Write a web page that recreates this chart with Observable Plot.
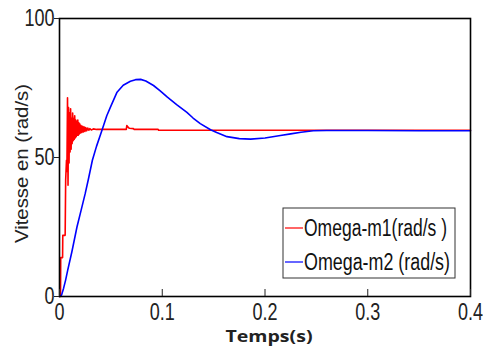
<!DOCTYPE html>
<html>
<head>
<meta charset="utf-8">
<script src="https://cdn.jsdelivr.net/npm/d3@7"></script>
<script src="https://cdn.jsdelivr.net/npm/@observablehq/plot@0.6"></script>
<style>
  html, body { margin: 0; padding: 0; background: #fff; }
  #chart { position: relative; width: 483px; height: 353px; }
</style>
</head>
<body>
<div id="chart"></div>
<script>
// Omega-m1 (red): time (s) and speed (rad/s)
const redT = [0,0.001,0.0012,0.003,0.0032,0.0055,0.006,0.0068,0.0072,0.0078,0.0083,0.0088,0.0093,0.0098,0.0103,0.0108,0.0113,0.0118,0.0123,0.0128,0.0133,0.0138,0.0143,0.0148,0.0153,0.0158,0.0163,0.0168,0.0173,0.0178,0.0183,0.0188,0.0193,0.0198,0.0205,0.021,0.0218,0.0225,0.0233,0.024,0.0248,0.0255,0.0265,0.0275,0.0285,0.0295,0.031,0.033,0.036,0.065,0.0655,0.067,0.068,0.072,0.0725,0.096,0.0965,0.4];
const redV = [0,0,14,14,22,22,42,49,45,71.5,40,68,48,66,52,67.5,53,64,55,66,56,64,56.5,65,57,63.5,57.5,63,58,63.5,58,62.5,58.5,62,58.8,61.5,59,61.2,59.2,61,59.4,60.8,59.6,60.6,59.8,60.4,59.9,60.3,60.1,60.1,61.5,60.8,60.5,60.4,60.1,60.1,59.8,59.8];
// Omega-m2 (blue)
const blueT = [0,0.002,0.004,0.006,0.008,0.012,0.017,0.021,0.025,0.028,0.032,0.036,0.0415,0.046,0.05,0.056,0.062,0.069,0.074,0.079,0.084,0.0915,0.098,0.105,0.114,0.124,0.13,0.137,0.147,0.153,0.163,0.175,0.186,0.2,0.215,0.225,0.235,0.247,0.26,0.3,0.35,0.4];
const blueV = [0,0.5,3,6,9.5,16,25,31,37,42,49,54,60,65,68.5,73.5,76,77.4,78,78.1,77.5,75.9,74,71.7,69,66.2,64.2,62.2,60,59,57.5,56.8,56.6,57,57.9,58.5,59.1,59.6,59.7,59.7,59.6,59.6];

const xTicks = [0, 0.1, 0.2, 0.3, 0.4];
const yTicks = [0, 50, 100];
const seriesNames = ["Omega-m1(rad/s )", "Omega-m2 (rad/s)"];
const seriesColors = ["#ff0000", "#0000ff"];
const xLabel = "Temps(s)";
const yLabel = "Vitesse en (rad/s)";

const red = redT.map((t, i) => ({t, v: redV[i]}));
const blue = blueT.map((t, i) => ({t, v: blueV[i]}));

const sans = "'Liberation Sans',Arial,sans-serif";

const plot = Plot.plot({
  width: 483,
  height: 353,
  marginLeft: 59,
  marginRight: 13,
  marginTop: 18,
  marginBottom: 57,
  style: {background: "#fff", fontFamily: sans, fontSize: "24px", color: "#222"},
  x: {domain: [0, 0.4]},
  y: {domain: [0, 100]},
  marks: [
    Plot.line(red, {x: "t", y: "v", stroke: seriesColors[0], strokeWidth: 1.6}),
    Plot.line(blue, {x: "t", y: "v", stroke: seriesColors[1], strokeWidth: 1.6}),
    Plot.frame({stroke: "#000", strokeWidth: 1.6}),
    Plot.axisX({ticks: xTicks, tickFormat: d => String(d), tickSize: -7, tickPadding: 13, tickStrokeWidth: 1.3, label: null, fontSize: 24, fill: "#222"}),
    Plot.axisY({ticks: yTicks, tickFormat: d => String(d), tickSize: 5, tickPadding: 0, tickStrokeWidth: 1.3, label: null, fontSize: 24, fill: "#222"}),
    Plot.text([xLabel], {frameAnchor: "bottom", dx: 4, dy: 45, text: d => d, fontFamily: "'Open Sans',sans-serif", fontWeight: "bold", fontSize: 16, lineAnchor: "bottom", textAnchor: "middle", fill: "#222"}),
    Plot.text([yLabel], {frameAnchor: "left", dx: -37, dy: 6, rotate: -90, text: d => d, fontFamily: sans, fontSize: 18, textAnchor: "middle", fill: "#222"})
  ]
});
document.getElementById("chart").appendChild(plot);

const svg = d3.select(plot);
// narrow look for tick labels (like Arial Narrow)
svg.selectAll("g[aria-label='x-axis tick label'] text, g[aria-label='y-axis tick label'] text").each(function() {
  const len = this.getComputedTextLength();
  d3.select(this).attr("textLength", len * 0.75).attr("lengthAdjust", "spacingAndGlyphs");
});
svg.selectAll("g[aria-label='text'] text").each(function() {
  const t = this.textContent;
  if (t === xLabel) d3.select(this).attr("textLength", 87).attr("lengthAdjust", "spacingAndGlyphs");
  if (t === yLabel) d3.select(this).attr("textLength", 159).attr("lengthAdjust", "spacingAndGlyphs");
});

// legend
const lg = svg.append("g").attr("transform", "translate(283,208)");
lg.append("rect").attr("width", 172).attr("height", 70).attr("fill", "#fff").attr("stroke", "#333").attr("stroke-width", 1);
seriesNames.forEach((name, i) => {
  const y = 20 + i * 34;
  lg.append("line").attr("x1", 2).attr("x2", 20).attr("y1", y).attr("y2", y).attr("stroke", seriesColors[i]).attr("stroke-width", 1.2);
  lg.append("text").attr("x", 21).attr("y", y).attr("dy", "0.35em")
    .attr("text-anchor", "start").attr("font-family", sans).attr("font-size", 23).attr("fill", "#111")
    .attr("textLength", i === 0 ? 143 : 146).attr("lengthAdjust", "spacingAndGlyphs").text(name);
});
</script>
</body>
</html>
